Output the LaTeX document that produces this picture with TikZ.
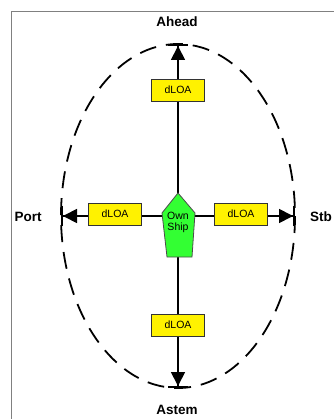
\documentclass[tikz,border=0pt]{standalone}
\usepackage{fontspec}
\setmainfont{Liberation Sans}
\usetikzlibrary{arrows.meta}
\usetikzlibrary{positioning}
\usetikzlibrary{calc}

\begin{document}
\begin{tikzpicture}[x=1pt,y=-1pt,semithick,
		dir/.style={-{Triangle[length=14pt,width=14pt]Bar[width=20pt,line width=2pt]},line width=1.8pt}]
		\tikzstyle{loa}=[draw=black!80,fill=yellow,line width=0.8pt,minimum width=53pt,minimum height=22pt,inner sep=0pt,font=\fontsize{10.5}{12}\selectfont]
		\tikzstyle{side}=[font=\fontsize{13.5}{15}\selectfont\bfseries]

		\useasboundingbox (0,0) rectangle (334,419);
		\draw[gray,line width=1pt] (11,419) -- (11,12) -- (334,12);

		% own ship in the middle
		\node[inner sep=0pt,minimum size=2pt] (ship) at (178,216) {};
		\draw[dashed,dash pattern=on 17pt off 10pt,line width=1.8pt] (ship) ellipse [x radius=117, y radius=172];

		\coordinate (ahead) at ($(ship)+(0,-172)$);
		\coordinate (astem) at ($(ship)+(0,172)$);
		\coordinate (port)  at ($(ship)+(-117,0)$);
		\coordinate (stb)   at ($(ship)+(117,0)$);

		\draw[dir] (ship) -- (ahead);
		\draw[dir] (ship) -- (astem);
		\draw[dir] (ship) -- (port);
		\draw[dir] (ship) -- (stb);

		\node[loa] (loaA) at ($(ship)+(0,-126)$) {dLOA};
		\node[loa] (loaB) at ($(ship)+(0,109)$)  {dLOA};
		\node[loa] (loaP) at ($(ship)+(-63,-2)$) {dLOA};
		\node[loa] (loaS) at ($(ship)+(63,-2)$)  {dLOA};

		\draw[fill={rgb,255:red,51;green,255;blue,51},draw=black!70,line width=0.8pt]
			($(ship)+(0,-23)$) -- ($(ship)+(17,-3)$) -- ($(ship)+(14,41)$)
			-- ($(ship)+(-11,41)$) -- ($(ship)+(-16,-3)$) -- cycle;
		\node[align=center,font=\fontsize{10.5}{11}\selectfont,inner sep=0pt] (own) at ($(ship)+(0,6)$) {Own\\Ship};

		\node[side] (lahead) at (177,22)  {Ahead};
		\node[side] (lastem) at (177,410) {Astem};
		\node[side] (lport)  at (28,217)  {Port};
		\node[side] (lstb)   at (321,217) {Stb};
\end{tikzpicture}
\end{document}
